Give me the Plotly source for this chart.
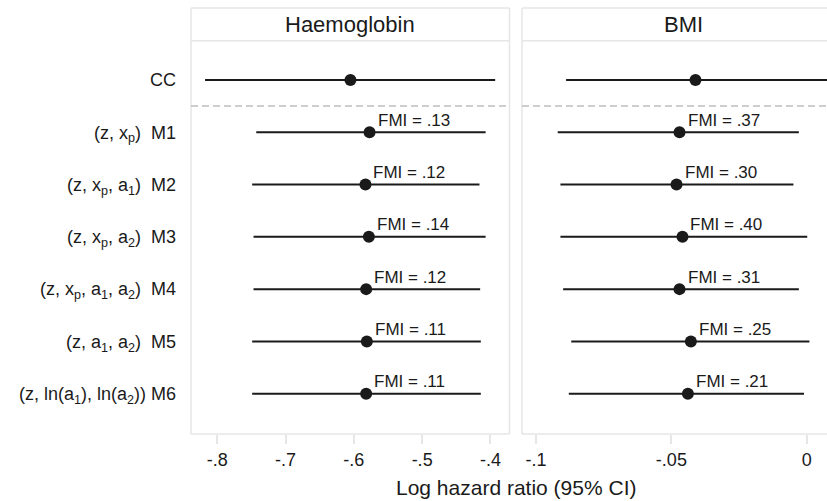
import plotly.graph_objects as go

# ---- data ----
row_labels = [
    "CC",
    "(z, x<sub>p</sub>)\u00a0\u00a0M1",
    "(z, x<sub>p</sub>, a<sub>1</sub>)\u00a0\u00a0M2",
    "(z, x<sub>p</sub>, a<sub>2</sub>)\u00a0\u00a0M3",
    "(z, x<sub>p</sub>, a<sub>1</sub>, a<sub>2</sub>)\u00a0\u00a0M4",
    "(z, a<sub>1</sub>, a<sub>2</sub>)\u00a0\u00a0M5",
    "(z, ln(a<sub>1</sub>), ln(a<sub>2</sub>))\u00a0M6",
]
panel_titles = ["Haemoglobin", "BMI"]

hb_est = [-0.605, -0.577, -0.583, -0.578, -0.582, -0.581, -0.582]
hb_lo = [-0.818, -0.743, -0.749, -0.747, -0.747, -0.749, -0.749]
hb_hi = [-0.393, -0.407, -0.416, -0.407, -0.415, -0.414, -0.414]
hb_fmi = [None, ".13", ".12", ".14", ".12", ".11", ".11"]

bmi_est = [-0.0411, -0.0470, -0.0481, -0.0459, -0.0470, -0.0428, -0.0439]
bmi_lo = [-0.0889, -0.0920, -0.0910, -0.0910, -0.0900, -0.0870, -0.0879]
bmi_hi = [0.010, -0.0029, -0.0049, 0.0002, -0.0029, 0.0010, -0.0010]
bmi_fmi = [None, ".37", ".30", ".40", ".31", ".25", ".21"]

hb_ticks = [-0.8, -0.7, -0.6, -0.5, -0.4]
hb_ticktext = ["-.8", "-.7", "-.6", "-.5", "-.4"]
bmi_ticks = [-0.1, -0.05, 0.0]
bmi_ticktext = ["-.1", "-.05", "0"]
x_title = "Log hazard ratio (95% CI)"

W, H = 827, 501
FONT = "Liberation Sans, Arial, sans-serif"
INK = "#1a1a1a"
FRAME = "#e6e6e6"

# geometry (paper fractions)
L0, L1 = 191 / W, 509.5 / W
R0, R1 = 522 / W, 1.0
YB, YT = 1 - 434 / H, 1 - 40.7 / H
ST = 1 - 8 / H

rows = list(range(len(row_labels)))

fig = go.Figure()

def add_panel(est, lo, hi, fmi, xa, ya):
    for i in rows:
        fig.add_trace(go.Scatter(
            x=[lo[i], hi[i]], y=[i, i], mode="lines",
            line=dict(color=INK, width=2), xaxis=xa, yaxis=ya,
            showlegend=False, hoverinfo="skip"))
    fig.add_trace(go.Scatter(
        x=est, y=rows, mode="markers",
        marker=dict(color=INK, size=12), xaxis=xa, yaxis=ya,
        showlegend=False, cliponaxis=False))
    for i in rows:
        if fmi[i]:
            fig.add_annotation(
                x=est[i], y=i, xref=xa, yref=ya,
                text="FMI = " + fmi[i], showarrow=False,
                xanchor="left", yanchor="middle", xshift=6, yshift=12,
                font=dict(family=FONT, size=17, color=INK))

add_panel(hb_est, hb_lo, hb_hi, hb_fmi, "x", "y")
add_panel(bmi_est, bmi_lo, bmi_hi, bmi_fmi, "x2", "y2")

yrange = [6.77, -0.75]
xcommon = dict(ticks="outside", ticklen=9, tickwidth=1.5, tickcolor=FRAME,
               showgrid=False, zeroline=False, showline=False,
               tickfont=dict(family=FONT, size=18, color=INK), automargin=False)

fig.update_layout(
    width=W, height=H, margin=dict(l=0, r=0, t=0, b=0),
    paper_bgcolor="white", plot_bgcolor="white",
    xaxis=dict(domain=[L0, L1], range=[-0.8386, -0.372],
               tickvals=hb_ticks, ticktext=hb_ticktext, anchor="y", **xcommon),
    xaxis2=dict(domain=[R0, R1], range=[-0.1052, 0.0075],
                tickvals=bmi_ticks, ticktext=bmi_ticktext, anchor="y2", **xcommon),
    yaxis=dict(domain=[YB, YT], range=yrange, tickvals=rows, ticktext=row_labels,
               showgrid=False, zeroline=False, showline=False, ticks="",
               ticklabelstandoff=14, anchor="x",
               tickfont=dict(family=FONT, size=18, color=INK), automargin=False),
    yaxis2=dict(domain=[YB, YT], range=yrange, showticklabels=False,
                showgrid=False, zeroline=False, showline=False, ticks="",
                anchor="x2"),
)

# frames
fl = dict(color=FRAME, width=1.5)
dash = dict(color="#bdbdbd", width=1.5, dash="7px,4px")
for (a, b, closed) in [(L0, L1, True), (R0, R1, False)]:
    fig.add_shape(type="line", xref="paper", yref="paper", x0=a, x1=a, y0=YB, y1=ST, line=fl)
    fig.add_shape(type="line", xref="paper", yref="paper", x0=a, x1=b, y0=YB, y1=YB, line=fl)
    fig.add_shape(type="line", xref="paper", yref="paper", x0=a, x1=b, y0=ST, y1=ST, line=fl)
    fig.add_shape(type="line", xref="paper", yref="paper", x0=a, x1=b, y0=YT, y1=YT, line=fl)
    if closed:
        fig.add_shape(type="line", xref="paper", yref="paper", x0=b, x1=b, y0=YB, y1=ST, line=fl)

# dashed separator between CC and models
fig.add_shape(type="line", xref="x domain", yref="y", x0=0, x1=1, y0=0.5, y1=0.5, line=dash)
fig.add_shape(type="line", xref="x2 domain", yref="y2", x0=0, x1=1, y0=0.5, y1=0.5, line=dash)

# strip titles
for (a, b), t in zip([(L0, L1), (R0, 1.0)], panel_titles):
    fig.add_annotation(x=(a + b) / 2 if t != "BMI" else (522 + 161.5) / W, y=(YT + ST) / 2,
                       xref="paper", yref="paper", text=t, showarrow=False,
                       xanchor="center", yanchor="middle",
                       font=dict(family=FONT, size=22, color=INK))

fig.add_annotation(x=515.5 / W, y=1 - 487 / H, xref="paper", yref="paper",
                   text=x_title, showarrow=False, xanchor="center", yanchor="middle",
                   font=dict(family=FONT, size=21, color=INK))

fig.write_html("out.html")
